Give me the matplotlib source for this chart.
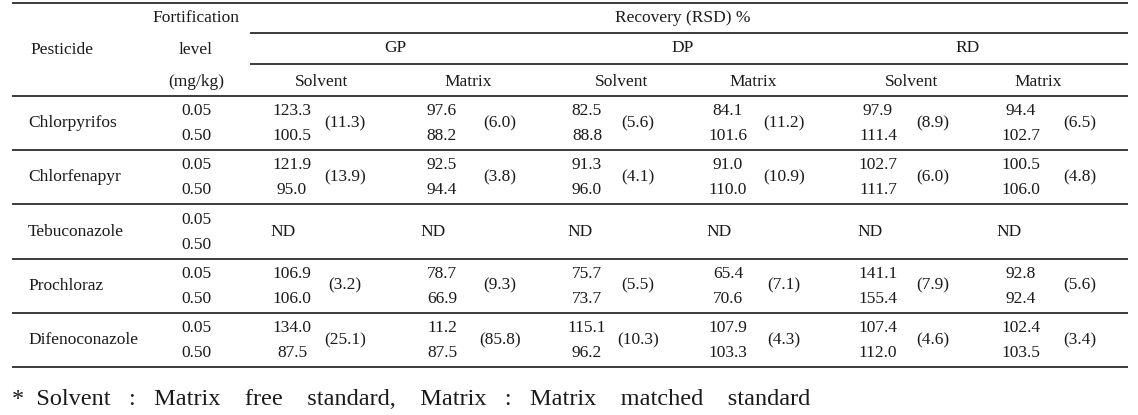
import matplotlib
matplotlib.use("Agg")
import matplotlib.pyplot as plt

# ── Table content ─────────────────────────────────────────────────────
PESTICIDES = ["Chlorpyrifos", "Chlorfenapyr", "Tebuconazole", "Prochloraz", "Difenoconazole"]
LEVELS = ["0.05", "0.50"]
GROUPS = ["GP", "DP", "RD"]
STANDARDS = ["Solvent", "Matrix"]

# recovery at (0.05, 0.50); None = ND
GP_SOLVENT = [[123.3, 100.5], [121.9, 95.0], None, [106.9, 106.0], [134.0, 87.5]]
GP_SOLVENT_RSD = [11.3, 13.9, None, 3.2, 25.1]
GP_MATRIX = [[97.6, 88.2], [92.5, 94.4], None, [78.7, 66.9], [11.2, 87.5]]
GP_MATRIX_RSD = [6.0, 3.8, None, 9.3, 85.8]
DP_SOLVENT = [[82.5, 88.8], [91.3, 96.0], None, [75.7, 73.7], [115.1, 96.2]]
DP_SOLVENT_RSD = [5.6, 4.1, None, 5.5, 10.3]
DP_MATRIX = [[84.1, 101.6], [91.0, 110.0], None, [65.4, 70.6], [107.9, 103.3]]
DP_MATRIX_RSD = [11.2, 10.9, None, 7.1, 4.3]
RD_SOLVENT = [[97.9, 111.4], [102.7, 111.7], None, [141.1, 155.4], [107.4, 112.0]]
RD_SOLVENT_RSD = [8.9, 6.0, None, 7.9, 4.6]
RD_MATRIX = [[94.4, 102.7], [100.5, 106.0], None, [92.8, 92.4], [102.4, 103.5]]
RD_MATRIX_RSD = [6.5, 4.8, None, 5.6, 3.4]

FOOTNOTE = "* Solvent : Matrix free standard, Matrix : Matrix matched standard"

COLUMNS = [
    (GP_SOLVENT, GP_SOLVENT_RSD),
    (GP_MATRIX, GP_MATRIX_RSD),
    (DP_SOLVENT, DP_SOLVENT_RSD),
    (DP_MATRIX, DP_MATRIX_RSD),
    (RD_SOLVENT, RD_SOLVENT_RSD),
    (RD_MATRIX, RD_MATRIX_RSD),
]

# ── Layout (pixel coords, y downwards) ────────────────────────────────
W, H = 1138, 415
X0, X1 = 12, 1128
XREC = 250
Y_TOP, Y_REC, Y_GRP, Y_HEAD = 3, 33, 64, 96
ROW_H = 54.2
VAL_X = [292, 442, 587, 728, 878, 1021]
RSD_X = [345, 500, 638, 784, 933, 1080]
ND_X = [270, 420, 567, 706, 857, 996]
SUB_X = [322, 468, 622, 753, 912, 1038]
GRP_X = [395, 683, 968]
LEVEL_X = 196

FONT = "Liberation Serif"
FS = 12.5
COL = "#1a1a1a"

fig = plt.figure(figsize=(W / 100, H / 100), dpi=100)
ax = fig.add_axes([0, 0, 1, 1])
ax.set_xlim(0, W)
ax.set_ylim(H, 0)
ax.axis("off")


def txt(x, y, s, ha="center", size=FS):
    ax.text(x, y, s, ha=ha, va="center", fontsize=size, family=FONT, color=COL)


def hline(y, xa=X0, xb=X1):
    ax.plot([xa, xb], [y, y], color=COL, lw=1.2, solid_capstyle="butt")


# header
hline(Y_TOP)
hline(Y_REC, XREC)
hline(Y_GRP, XREC)
hline(Y_HEAD)
txt(62, 50, "Pesticide")
txt(LEVEL_X, 18, "Fortification")
txt(LEVEL_X, 50, "level")
txt(LEVEL_X, 82, "(mg/kg)")
txt(683, 18, "Recovery (RSD) %")
for g, gx in zip(GROUPS, GRP_X):
    txt(gx, 48, g)
for i, sx in enumerate(SUB_X):
    txt(sx, 82, STANDARDS[i % 2])

# body
for r, name in enumerate(PESTICIDES):
    top = Y_HEAD + r * ROW_H
    mid = top + ROW_H / 2
    y1, y2 = mid - 12, mid + 13
    txt(28, mid, name, ha="left")
    txt(LEVEL_X, y1, LEVELS[0])
    txt(LEVEL_X, y2, LEVELS[1])
    for c, (vals, rsds) in enumerate(COLUMNS):
        if vals[r] is None:
            txt(ND_X[c], mid, "ND", ha="left")
            continue
        txt(VAL_X[c], y1, f"{vals[r][0]:.1f}")
        txt(VAL_X[c], y2, f"{vals[r][1]:.1f}")
        txt(RSD_X[c], mid, f"({rsds[r]:.1f})")
    hline(top + ROW_H)

# footnote set with wide word spacing, as in the original
note = "    ".join(FOOTNOTE.split(" "))
note = note.replace("    :    ", "   :   ").replace("*    ", "*  ")
ax.text(X0, 399, note, ha="left", va="center", fontsize=17.5, family=FONT, color=COL)

fig.savefig("out.png", dpi=100)
